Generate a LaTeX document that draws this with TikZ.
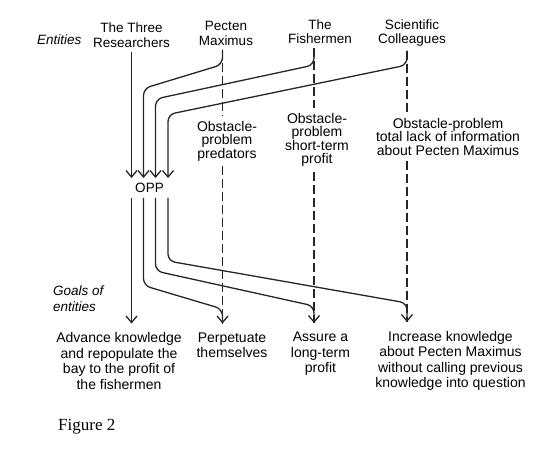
\documentclass[tikz,border=0pt]{standalone}
\usepackage{fontspec}
\setmainfont{Liberation Sans}
\newfontfamily\captionserif{Liberation Serif}
\usetikzlibrary{arrows.meta}
\tikzset{
    entity-box/.style = {align=center, inner sep=4pt, anchor=north, font=\fontsize{13.5}{14.5}\selectfont},
    obstacle-box/.style = {align=center, inner xsep=2pt, inner ysep=5pt, anchor=north, font=\fontsize{14}{13.5}\selectfont},
    goal-box/.style = {align=center, inner xsep=2pt, inner ysep=9pt, anchor=north, font=\fontsize{14}{15.5}\selectfont},
    side-label/.style = {align=left, inner sep=0pt, font=\fontsize{13.5}{15.5}\selectfont\itshape},
    solid-arrow/.style = {draw=black!85, line width=1.3pt, rounded corners=7pt, -{Straight Barb[length=6.5pt,width=11pt]}},
    dashed-line/.style = {draw=black!85, line width=1.2pt, dash pattern=on 9pt off 4pt},
}

\begin{document}
\begin{tikzpicture}[x=1pt,y=-1pt]
\path[use as bounding box, fill=white] (0,0) rectangle (543,454);

\node[side-label, anchor=base west] (entlab) at (37,45) {Entities};
\node[entity-box] (res) at (131.5,18.7) {The Three\\Researchers};
\node[entity-box] (pec) at (226,17.2) {Pecten\\Maximus};
\node[entity-box] (fish) at (320,15.2) {The\\Fishermen};
\node[entity-box] (sci) at (412,15.2) {Scientific\\Colleagues};

\node[inner xsep=2pt, inner ysep=5pt, font=\fontsize{13.5}{14.5}\selectfont] (opp) at (149.5,188) {OPP};

\node[obstacle-box] (obspec) at (227,116) {Obstacle-\\problem\\predators};
\node[obstacle-box] (obsfish) at (317,108) {Obstacle-\\problem\\short-term\\profit};
\node[obstacle-box] (obssci) at (448,113) {Obstacle-problem\\total lack of information\\about Pecten Maximus};

\node[side-label, anchor=north west] (goallab) at (53,285.8) {Goals of\\entities};
\node[goal-box] (goalres) at (119,323.5) {Advance knowledge\\and repopulate the\\bay to the profit of\\the fishermen};
\node[goal-box] (goalpec) at (232,323.5) {Perpetuate\\themselves};
\node[goal-box] (goalfish) at (320.5,323) {Assure a\\long-term\\profit};
\node[goal-box] (goalsci) at (450.5,322) {Increase knowledge\\about Pecten Maximus\\without calling previous\\knowledge into question};

\node[inner sep=0pt, anchor=base west, font=\fontsize{17}{20}\captionserif] (fig) at (58,430) {Figure 2};

\draw[dashed-line] ([xshift=-3.5pt]pec.south) -- ([xshift=-4.5pt]obspec.north);
\draw[dashed-line] ([xshift=-4.5pt]obspec.south) -- ([xshift=-9.5pt]goalpec.north);
\draw[dashed-line] ([xshift=-6pt]fish.south) -- ([xshift=-3pt]obsfish.north);
\draw[dashed-line] ([xshift=-3pt]obsfish.south) -- ([xshift=-6.5pt]goalfish.north);
\draw[dashed-line] ([xshift=-5pt]sci.south) -- ([xshift=-41pt]obssci.north);
\draw[dashed-line] ([xshift=-41pt]obssci.south) -- ([xshift=-43.5pt]goalsci.north);

\draw[solid-arrow] (res.south) -- ([xshift=-18pt]opp.north);
\draw[solid-arrow] ([xshift=-3.5pt]pec.south) -- (222.5,64.5) -- (143.5,88.5) -- ([xshift=-6pt]opp.north);
\draw[solid-arrow] ([xshift=-6pt]fish.south) -- (314,65) -- (155.5,99) -- ([xshift=6pt]opp.north);
\draw[solid-arrow] ([xshift=-5pt]sci.south) -- (407,65) -- (168,114.5) -- ([xshift=18.5pt]opp.north);

\draw[solid-arrow] ([xshift=-18pt]opp.south) -- ([xshift=12.5pt]goalres.north);
\draw[solid-arrow] ([xshift=-6pt]opp.south) -- (143.5,285.5) -- (222.5,309) -- ([xshift=-9.5pt]goalpec.north);
\draw[solid-arrow] ([xshift=6pt]opp.south) -- (155.5,271) -- (314,306) -- ([xshift=-6.5pt]goalfish.north);
\draw[solid-arrow] ([xshift=18.5pt]opp.south) -- (168,261) -- (407,303) -- ([xshift=-43.5pt]goalsci.north);
\end{tikzpicture}
\end{document}
